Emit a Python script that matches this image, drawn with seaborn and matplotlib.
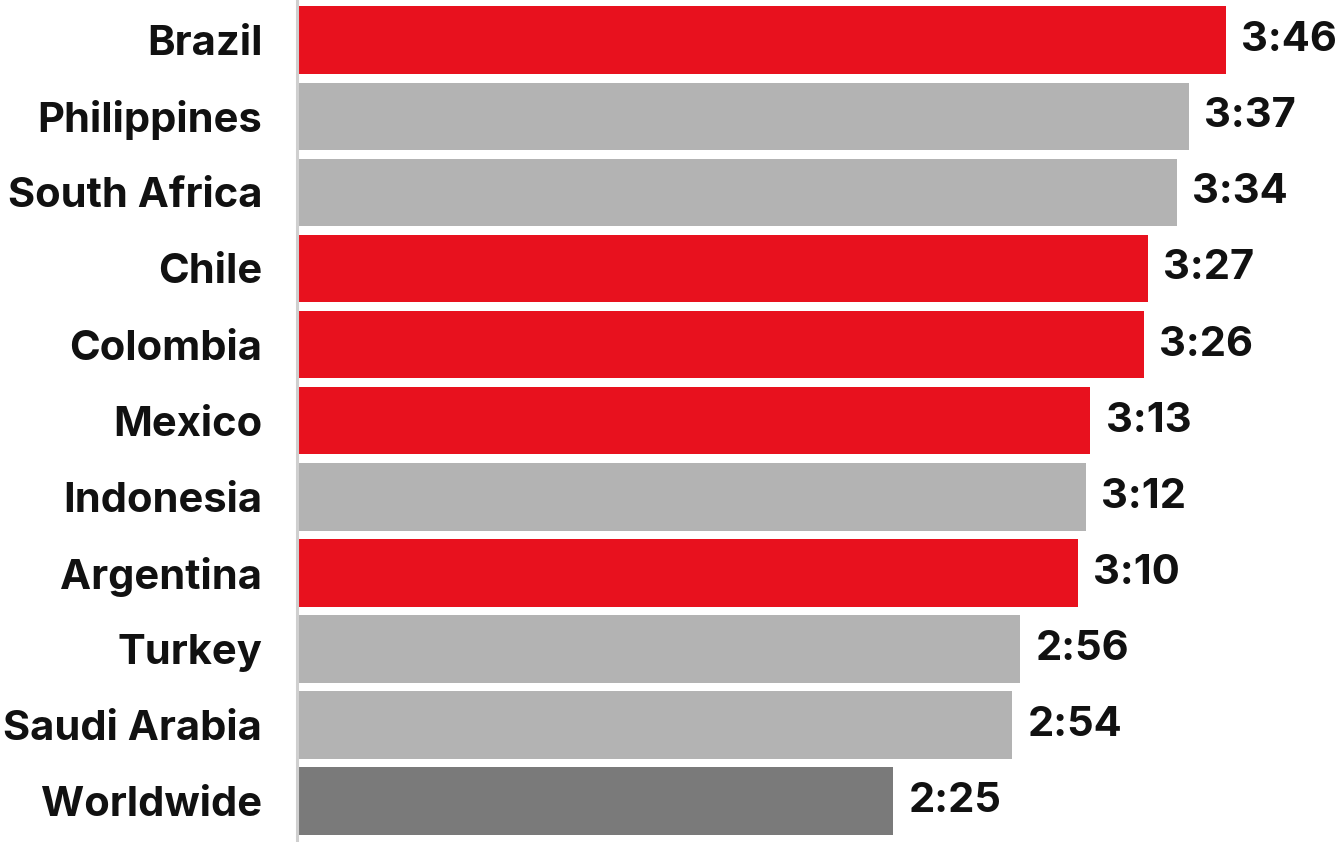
import pandas as pd
import matplotlib.pyplot as plt
import seaborn as sns

# data: minutes per day
countries = ["Brazil", "Philippines", "South Africa", "Chile", "Colombia",
             "Mexico", "Indonesia", "Argentina", "Turkey", "Saudi Arabia",
             "Worldwide"]
minutes = [226, 217, 214, 207, 206, 193, 192, 190, 176, 174, 145]
group = ["latam", "other", "other", "latam", "latam",
         "latam", "other", "latam", "other", "other", "world"]

palette = {"latam": "#E8111E", "other": "#B3B3B3", "world": "#7A7A7A"}

df = pd.DataFrame({"country": countries, "minutes": minutes, "group": group})
df["label"] = [f"{m // 60}:{m % 60:02d}" for m in df["minutes"]]

sns.set_style("white")
plt.rcParams["font.family"] = ["Inter", "DejaVu Sans"]

fig = plt.figure(figsize=(13.41, 8.42), dpi=100)
ax = fig.add_axes([0.2215, 0, 1 - 0.2215, 1])

sns.barplot(data=df, y="country", x="minutes", hue="group", palette=palette,
            saturation=1, dodge=False, width=0.89, orient="h", legend=False,
            ax=ax, edgecolor="none")

for i, row in df.iterrows():
    ax.annotate(row["label"], xy=(row["minutes"], i), xytext=(11, 0),
                textcoords="offset points", va="center", ha="left",
                fontsize=30, fontweight="bold", color="#111111")

ax.set_xlim(0, 254)
ax.set_ylim(10.54, -0.53)
ax.set_xlabel("")
ax.set_ylabel("")
ax.set_xticks([])
ax.tick_params(axis="y", length=0, pad=25)
for lbl in ax.get_yticklabels():
    lbl.set_fontsize(30)
    lbl.set_fontweight("bold")
    lbl.set_color("#111111")

for s in ["top", "right", "bottom"]:
    ax.spines[s].set_visible(False)
ax.spines["left"].set_color("#CFCFCF")
ax.spines["left"].set_linewidth(2.2)

fig.savefig("out.png", dpi=100)
